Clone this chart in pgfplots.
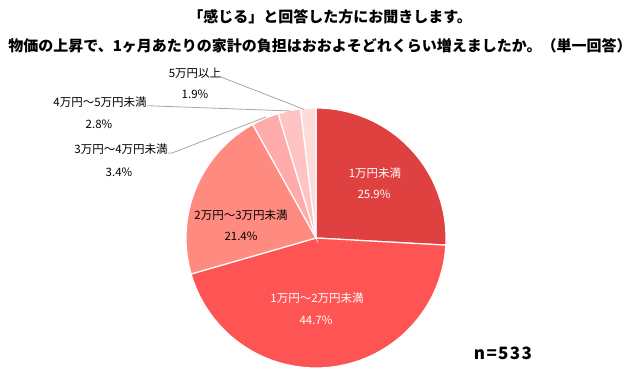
\documentclass[border=0pt]{standalone}
\usepackage{pgfplots}
\usepackage{pgfplotstable}
\pgfplotsset{compat=1.18}
\usepackage{fontspec}
\setmainfont{Noto Sans CJK JP}
\definecolor{cA}{HTML}{DF4040}
\definecolor{cB}{HTML}{FF5454}
\definecolor{cC}{HTML}{FF8B80}
\definecolor{cD}{HTML}{FFABAB}
\definecolor{cE}{HTML}{FFC3C3}
\definecolor{cF}{HTML}{FFDCDC}
\definecolor{lead}{HTML}{A6A6A6}
\pgfplotstableread{
pct
25.9
44.7
21.4
3.4
2.8
1.9
}\piedata
\def\tot{100.1}
\def\cx{316}\def\cy{136}\def\rr{130}
\pgfmathsetmacro\angA{90}
\pgfplotstablegetelem{0}{pct}\of\piedata \pgfmathsetmacro\angB{\angA-\pgfplotsretval*360/\tot}
\pgfplotstablegetelem{1}{pct}\of\piedata \pgfmathsetmacro\angC{\angB-\pgfplotsretval*360/\tot}
\pgfplotstablegetelem{2}{pct}\of\piedata \pgfmathsetmacro\angD{\angC-\pgfplotsretval*360/\tot}
\pgfplotstablegetelem{3}{pct}\of\piedata \pgfmathsetmacro\angE{\angD-\pgfplotsretval*360/\tot}
\pgfplotstablegetelem{4}{pct}\of\piedata \pgfmathsetmacro\angF{\angE-\pgfplotsretval*360/\tot}
\pgfplotstablegetelem{5}{pct}\of\piedata \pgfmathsetmacro\angG{\angF-\pgfplotsretval*360/\tot}
\begin{document}
\begin{tikzpicture}
\begin{axis}[
  at={(0,0)}, anchor=south west,
  width=638pt, height=374pt, scale only axis,
  xmin=0, xmax=638, ymin=0, ymax=374,
  hide axis, clip=false,
]
\addplot[fill=cA, draw=white, line width=1.2pt, domain=\angB:\angA, samples=80, variable=\t]
  ({\cx+\rr*cos(\t)},{\cy+\rr*sin(\t)}) -- (axis cs:\cx,\cy) -- cycle;
\addplot[fill=cB, draw=white, line width=1.2pt, domain=\angC:\angB, samples=120, variable=\t]
  ({\cx+\rr*cos(\t)},{\cy+\rr*sin(\t)}) -- (axis cs:\cx,\cy) -- cycle;
\addplot[fill=cC, draw=white, line width=1.2pt, domain=\angD:\angC, samples=60, variable=\t]
  ({\cx+\rr*cos(\t)},{\cy+\rr*sin(\t)}) -- (axis cs:\cx,\cy) -- cycle;
\addplot[fill=cD, draw=white, line width=1.2pt, domain=\angE:\angD, samples=15, variable=\t]
  ({\cx+\rr*cos(\t)},{\cy+\rr*sin(\t)}) -- (axis cs:\cx,\cy) -- cycle;
\addplot[fill=cE, draw=white, line width=1.2pt, domain=\angF:\angE, samples=15, variable=\t]
  ({\cx+\rr*cos(\t)},{\cy+\rr*sin(\t)}) -- (axis cs:\cx,\cy) -- cycle;
\addplot[fill=cF, draw=white, line width=1.2pt, domain=\angG:\angF, samples=15, variable=\t]
  ({\cx+\rr*cos(\t)},{\cy+\rr*sin(\t)}) -- (axis cs:\cx,\cy) -- cycle;
% leader lines
\addplot[lead, line width=0.8pt] coordinates {(220,297.3) (304,264.7)};
\addplot[lead, line width=0.8pt] coordinates {(147,268.3) (291,263)};
\addplot[lead, line width=0.8pt] coordinates {(168,221) (172,221) (266,257)};
% titles
\node[font=\fontsize{15}{18}\selectfont\bfseries] at (axis cs:330,357) {「感じる」と回答した方にお聞きします。};
\node[font=\fontsize{15}{18}\selectfont\bfseries] at (axis cs:320,328) {物価の上昇で、1ヶ月あたりの家計の負担はおおよそどれくらい増えましたか。（単一回答）};
% labels
\begin{scope}[every node/.style={font=\fontsize{11.5}{13}\selectfont}]
\node[white] at (axis cs:375,201) {1万円未満};
\node[white] at (axis cs:374,180) {25.9\%};
\node[white] at (axis cs:317,76) {1万円～2万円未満};
\node[white] at (axis cs:316,54) {44.7\%};
\node at (axis cs:241,159) {2万円～3万円未満};
\node at (axis cs:241,138) {21.4\%};
\node at (axis cs:121,225) {3万円～4万円未満};
\node at (axis cs:119,202) {3.4\%};
\node at (axis cs:100,272) {4万円～5万円未満};
\node at (axis cs:99,250) {2.8\%};
\node at (axis cs:195,301) {5万円以上};
\node at (axis cs:195,280) {1.9\%};
\end{scope}
\node[font=\fontsize{17}{19}\selectfont\bfseries\addfontfeature{LetterSpace=8}] at (axis cs:503,21) {n=533};
\end{axis}
\pgfresetboundingbox
\path[use as bounding box] (0,0) rectangle (638pt,374pt);
\end{tikzpicture}
\end{document}
